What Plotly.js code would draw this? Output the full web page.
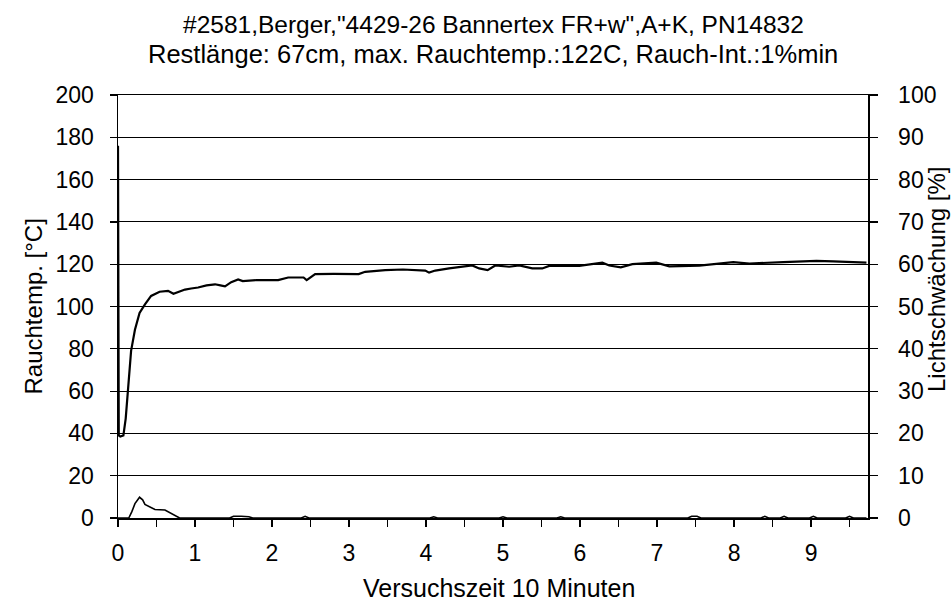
<!DOCTYPE html>
<html>
<head>
<meta charset="utf-8">
<script src="https://cdn.plot.ly/plotly-3.0.1.min.js"></script>
<style>html,body{margin:0;padding:0;background:#fff;}#chart{width:952px;height:605px;}</style>
</head>
<body>
<div id="chart"></div>
<script>
// Rauchtemperatur (left axis, °C) over time (x in units of 10 minutes)
const tempTime = [0, 0.01, 0.03, 0.07, 0.10, 0.13, 0.17, 0.22, 0.28, 0.35, 0.43, 0.54, 0.65, 0.72, 0.80, 0.87, 0.95, 1.04, 1.15, 1.26, 1.33, 1.39, 1.47, 1.56, 1.62, 1.69, 1.80, 2.0, 2.08, 2.21, 2.41, 2.45, 2.56, 2.8, 3.125, 3.21, 3.47, 3.7, 3.99, 4.04, 4.12, 4.30, 4.47, 4.60, 4.69, 4.80, 4.90, 5.08, 5.21, 5.38, 5.51, 5.60, 5.99, 6.29, 6.38, 6.53, 6.68, 6.99, 7.16, 7.55, 7.99, 8.2, 8.64, 9.07, 9.29, 9.5, 9.72];
const tempValues = [176, 39, 38.5, 39, 47, 62, 79, 89, 97, 101, 105, 107, 107.4, 106, 107, 108, 108.5, 109, 110, 110.5, 110, 109.5, 111.5, 112.8, 112, 112.3, 112.5, 112.5, 112.5, 113.7, 113.7, 112.5, 115.3, 115.4, 115.3, 116.4, 117.2, 117.5, 117, 116, 117, 118, 118.8, 119.4, 118, 117.2, 119.4, 118.8, 119.4, 118, 118, 119.2, 119.2, 120.7, 119.4, 118.5, 120, 120.7, 119, 119.3, 121, 120.3, 121, 121.6, 121.3, 121, 120.7];

// Lichtschwächung (right axis, %)
const lightTime = [0, 0.14, 0.18, 0.22, 0.28, 0.32, 0.35, 0.39, 0.48, 0.61, 0.67, 0.72, 0.76, 0.80, 1.45, 1.50, 1.60, 1.70, 1.75, 2.38, 2.43, 2.48, 4.05, 4.10, 4.15, 4.95, 5.00, 5.05, 5.70, 5.75, 5.80, 7.40, 7.45, 7.52, 7.57, 8.35, 8.40, 8.45, 8.60, 8.65, 8.70, 8.98, 9.03, 9.08, 9.45, 9.50, 9.55, 9.72];
const lightValues = [0, 0, 1.5, 3.4, 4.9, 4.3, 3.2, 2.8, 2.0, 1.9, 1.3, 0.6, 0.2, 0, 0, 0.4, 0.4, 0.3, 0, 0, 0.4, 0, 0, 0.3, 0, 0, 0.3, 0, 0, 0.3, 0, 0, 0.4, 0.4, 0, 0, 0.4, 0, 0, 0.4, 0, 0, 0.4, 0, 0, 0.4, 0, 0];

const xTickVals = [0,0.5,1,1.5,2,2.5,3,3.5,4,4.5,5,5.5,6,6.5,7,7.5,8,8.5,9,9.5];
const xTickText = ['0','','1','','2','','3','','4','','5','','6','','7','','8','','9',''];

const titleLine1 = '#2581,Berger,"4429-26 Bannertex FR+w",A+K, PN14832';
const titleLine2 = 'Restlänge: 67cm, max. Rauchtemp.:122C, Rauch-Int.:1%min';
const xTitle = 'Versuchszeit 10 Minuten';
const yTitle = 'Rauchtemp. [°C]';
const y2Title = 'Lichtschwächung [%]';

const fam = '"Liberation Sans", Arial, sans-serif';
const tickFont = {family: fam, size: 23, color: '#000'};
const titleFont = {family: fam, size: 24, color: '#000'};

const data = [
  {x: tempTime, y: tempValues, type: 'scatter', mode: 'lines', line: {color: '#000', width: 2.2}, yaxis: 'y', hoverinfo: 'skip'},
  {x: lightTime, y: lightValues, type: 'scatter', mode: 'lines', line: {color: '#000', width: 1.6}, yaxis: 'y2', hoverinfo: 'skip'}
];

const layout = {
  width: 952, height: 605,
  paper_bgcolor: '#fff', plot_bgcolor: '#fff',
  margin: {l: 118, r: 84, t: 95, b: 87},
  showlegend: false,
  font: tickFont,
  xaxis: {
    range: [0, 9.74], tickmode: 'array', tickvals: xTickVals, ticktext: xTickText,
    ticks: 'outside', ticklen: 7, tickcolor: '#000', tickwidth: 1.2,
    showline: true, linecolor: '#000', linewidth: 1.5, mirror: true,
    showgrid: false, zeroline: false, ticklabelstandoff: 7,
    tickfont: tickFont
  },
  yaxis: {
    range: [0, 200], dtick: 20, tick0: 0,
    ticks: 'outside', ticklen: 7, tickcolor: '#000', tickwidth: 1.2,
    showline: true, linecolor: '#000', linewidth: 1.5,
    showgrid: true, gridcolor: '#000', gridwidth: 1, zeroline: false,
    ticklabelstandoff: 11, tickfont: tickFont
  },
  yaxis2: {
    range: [0, 100], dtick: 10, tick0: 0, overlaying: 'y', side: 'right',
    ticks: 'outside', ticklen: 8, tickcolor: '#000', tickwidth: 1.2,
    showline: true, linecolor: '#000', linewidth: 1.5,
    showgrid: false, zeroline: false,
    ticklabelstandoff: 16, tickfont: tickFont
  },
  annotations: [
    {text: titleLine1, xref: 'paper', yref: 'paper', x: 0.5, y: (518 - 24) / 423, xanchor: 'center', yanchor: 'middle', showarrow: false, font: {family: fam, size: 24.5, color: '#000'}},
    {text: titleLine2, xref: 'paper', yref: 'paper', x: 0.5, y: (518 - 54) / 423, xanchor: 'center', yanchor: 'middle', showarrow: false, font: {family: fam, size: 25.5, color: '#000'}},
    {text: xTitle, xref: 'paper', yref: 'paper', x: (499 - 118) / 750, y: (518 - 588) / 423, xanchor: 'center', yanchor: 'middle', showarrow: false, font: {family: fam, size: 25, color: '#000'}},
    {text: yTitle, xref: 'paper', yref: 'paper', x: (33 - 118) / 750, y: 0.5, xanchor: 'center', yanchor: 'middle', textangle: -90, showarrow: false, font: titleFont},
    {text: y2Title, xref: 'paper', yref: 'paper', x: (936 - 118) / 750, y: (518 - 280) / 423, xanchor: 'center', yanchor: 'middle', textangle: -90, showarrow: false, font: titleFont}
  ]
};

Plotly.newPlot('chart', data, layout, {staticPlot: true, displayModeBar: false});
</script>
</body>
</html>
